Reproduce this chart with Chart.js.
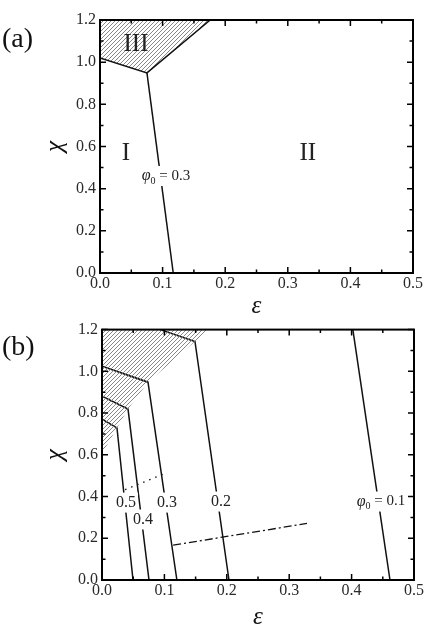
<!DOCTYPE html>
<html lang="en">
<head>
    <meta charset="UTF-8">
    <title>Phase diagrams (a) and (b)</title>
    <style>
        body { margin: 0; background: #fff; }
        canvas { display: block; }
    </style>
</head>
<body>
    <canvas id="chartA" width="428" height="316"></canvas>
    <canvas id="chartB" width="428" height="316"></canvas>
    <script src="https://cdn.jsdelivr.net/npm/chart.js"></script>
    <script>
        // axis ticks (epsilon on x, chi on y)
        const epsTicks = [0.0, 0.1, 0.2, 0.3, 0.4, 0.5];
        const chiTicks = [0.0, 0.2, 0.4, 0.6, 0.8, 1.0, 1.2];

        // panel (a): boundary of region III and the phi0 = 0.3 line
        const aRegionIIIEps = [0, 0.075, 0.176];
        const aRegionIIIChi = [1.02, 0.949, 1.2];
        const aPhi03Eps = [0.075, 0.117];
        const aPhi03Chi = [0.949, 0];

        // panel (a) labels
        const aLabelText = ['I', 'II', 'III'];
        const aLabelEps = [0.0415, 0.332, 0.0575];
        const aLabelChi = [0.569, 0.569, 1.086];
        const aPhiLabelEps = 0.1054;
        const aPhiLabelChi = 0.46;
        const aPhiLabelValue = '0.3';

        // panel (b): hatched boundary through the kinks
        const bBoundaryEps = [0, 0.024, 0.0417, 0.0737, 0.149, 0.173];
        const bBoundaryChi = [0.605, 0.729, 0.819, 0.948, 1.143, 1.2];

        // panel (b): one line per phi0
        const bPhi05Eps = [0, 0.024, 0.0497];
        const bPhi05Chi = [0.771, 0.729, 0];
        const bPhi04Eps = [0, 0.0417, 0.0753];
        const bPhi04Chi = [0.881, 0.819, 0];
        const bPhi03Eps = [0, 0.0737, 0.120];
        const bPhi03Chi = [1.024, 0.948, 0];
        const bPhi02Eps = [0.093, 0.149, 0.2035];
        const bPhi02Chi = [1.2, 1.143, 0];
        const bPhi01Eps = [0.402, 0.4615];
        const bPhi01Chi = [1.2, 0];

        // panel (b): dotted and dash-dot lines
        const bDottedEps = [0.037, 0.104];
        const bDottedChi = [0.433, 0.514];
        const bDashDotEps = [0.114, 0.3285];
        const bDashDotChi = [0.167, 0.271];

        // panel (b) labels
        const bLabelText = ['0.5', '0.4', '0.3', '0.2'];
        const bLabelEps = [0.0385, 0.0657, 0.104, 0.1907];
        const bLabelChi = [0.371, 0.29, 0.371, 0.376];
        const bPhiLabelEps = 0.447;
        const bPhiLabelChi = 0.376;
        const bPhiLabelValue = '0.1';

        const SERIF = '"Liberation Serif", "Times New Roman", serif';
        const INK = '#111';

        function points(xs, ys) {
            return xs.map((x, i) => ({ x: x, y: ys[i] }));
        }

        // diagonal hatching "////"
        function makeHatch() {
            const c = document.createElement('canvas');
            c.width = 4; c.height = 4;
            const g = c.getContext('2d');
            g.strokeStyle = '#7a7a7a';
            g.lineWidth = 0.9;
            g.beginPath();
            g.moveTo(0, 4); g.lineTo(4, 0);
            g.moveTo(-1, 1); g.lineTo(1, -1);
            g.moveTo(3, 5); g.lineTo(5, 3);
            g.stroke();
            return g.createPattern(c, 'repeat');
        }
        const hatch = makeHatch();

        function lineSet(xs, ys, extra) {
            return Object.assign({
                data: points(xs, ys),
                showLine: true,
                pointRadius: 0,
                borderColor: INK,
                borderWidth: 1.5,
                fill: false,
                tension: 0
            }, extra || {});
        }

        // minor tick values halfway between the major ones
        function withMinor(major) {
            const out = [];
            major.forEach((v, i) => {
                out.push({ v: v, major: true });
                if (i < major.length - 1) out.push({ v: (v + major[i + 1]) / 2, major: false });
            });
            return out;
        }

        // frame round the plot with inward ticks on all four sides
        const frameTicks = {
            id: 'frameTicks',
            afterDatasetsDraw(chart) {
                const { ctx, chartArea: a, scales: { x, y } } = chart;
                ctx.save();
                ctx.strokeStyle = '#000';
                ctx.lineWidth = 1.5;
                ctx.beginPath();
                withMinor(epsTicks).forEach(t => {
                    const px = x.getPixelForValue(t.v);
                    const len = t.major ? 6 : 3.5;
                    ctx.moveTo(px, a.bottom); ctx.lineTo(px, a.bottom - len);
                    ctx.moveTo(px, a.top); ctx.lineTo(px, a.top + len);
                });
                withMinor(chiTicks).forEach(t => {
                    const py = y.getPixelForValue(t.v);
                    const len = t.major ? 6 : 3.5;
                    ctx.moveTo(a.left, py); ctx.lineTo(a.left + len, py);
                    ctx.moveTo(a.right, py); ctx.lineTo(a.right - len, py);
                });
                ctx.stroke();
                ctx.lineWidth = 2;
                ctx.strokeRect(a.left, a.top, a.width, a.height);
                ctx.restore();
            }
        };

        // "phi_0 = value" with a small subscript
        function drawPhiLabel(ctx, cx, cy, value) {
            const big = '15px ' + SERIF;
            const ital = 'italic 16px ' + SERIF;
            const small = '10px ' + SERIF;
            ctx.font = ital; const w1 = ctx.measureText('\u03C6').width;
            ctx.font = small; const w2 = ctx.measureText('0').width;
            ctx.font = big; const w3 = ctx.measureText(' = ' + value).width;
            const w = w1 + w2 + w3;
            let x0 = cx - w / 2;
            ctx.fillStyle = '#fff';
            ctx.fillRect(x0 - 2, cy - 10, w + 4, 20);
            ctx.fillStyle = '#222';
            ctx.textBaseline = 'middle';
            ctx.textAlign = 'left';
            ctx.font = ital; ctx.fillText('\u03C6', x0, cy);
            x0 += w1;
            ctx.font = small; ctx.fillText('0', x0, cy + 5);
            x0 += w2;
            ctx.font = big; ctx.fillText(' = ' + value, x0, cy);
        }

        function textLabels(cfg) {
            return {
                id: 'textLabels',
                afterDatasetsDraw(chart) {
                    const { ctx, scales: { x, y } } = chart;
                    ctx.save();
                    ctx.textAlign = 'center';
                    ctx.textBaseline = 'middle';
                    cfg.text.forEach((t, i) => {
                        const px = x.getPixelForValue(cfg.eps[i]);
                        const py = y.getPixelForValue(cfg.chi[i]);
                        ctx.font = cfg.font;
                        if (cfg.box) {
                            const w = ctx.measureText(t).width;
                            ctx.fillStyle = '#fff';
                            ctx.fillRect(px - w / 2 - 2, py - 10, w + 4, 20);
                        }
                        ctx.fillStyle = '#222';
                        ctx.fillText(t, px, py);
                    });
                    drawPhiLabel(ctx, x.getPixelForValue(cfg.phiEps), y.getPixelForValue(cfg.phiChi), cfg.phiValue);
                    ctx.font = '28px ' + SERIF;
                    ctx.fillStyle = '#111';
                    ctx.textAlign = 'left';
                    ctx.fillText(cfg.panel, 2, cfg.panelY);
                    ctx.restore();
                }
            };
        }

        function makeOptions(dims) {
            return {
                responsive: false,
                animation: false,
                layout: { padding: { left: 0, top: dims.top, right: dims.right, bottom: 0 } },
                plugins: { legend: { display: false }, tooltip: { enabled: false } },
                scales: {
                    x: {
                        type: 'linear',
                        min: 0, max: 0.5,
                        grid: { display: false, drawTicks: false },
                        border: { display: false },
                        afterBuildTicks: s => { s.ticks = epsTicks.map(v => ({ value: v })); },
                        afterFit: s => { s.height = dims.xHeight; },
                        ticks: {
                            padding: 1,
                            maxRotation: 0,
                            autoSkip: false,
                            color: '#2a2a2a',
                            font: { family: SERIF, size: 16 },
                            callback: v => v.toFixed(1)
                        },
                        title: {
                            display: true,
                            text: '\u03B5',
                            color: '#111',
                            padding: { top: 0, bottom: 0 },
                            font: { family: SERIF, size: 25, style: 'italic', lineHeight: dims.epsLine }
                        }
                    },
                    y: {
                        type: 'linear',
                        min: 0, max: 1.2,
                        grid: { display: false, drawTicks: false },
                        border: { display: false },
                        afterBuildTicks: s => { s.ticks = chiTicks.map(v => ({ value: v })); },
                        afterFit: s => { s.width = dims.yWidth; },
                        ticks: {
                            padding: 4,
                            autoSkip: false,
                            color: '#2a2a2a',
                            font: { family: SERIF, size: 16 },
                            callback: v => v.toFixed(1)
                        },
                        title: {
                            display: true,
                            text: '\u03C7',
                            color: '#111',
                            padding: { top: 40, bottom: 0 },
                            font: { family: SERIF, size: 25, style: 'italic', lineHeight: 1.2 }
                        }
                    }
                }
            };
        }

        // panel (a)
        new Chart(document.getElementById('chartA').getContext('2d'), {
            type: 'scatter',
            data: {
                datasets: [
                    lineSet(aRegionIIIEps, aRegionIIIChi, { fill: 'end', backgroundColor: hatch }),
                    lineSet(aPhi03Eps, aPhi03Chi)
                ]
            },
            options: makeOptions({ top: 20, right: 15, xHeight: 43, yWidth: 100, epsLine: 0.75 }),
            plugins: [frameTicks, textLabels({
                text: aLabelText, eps: aLabelEps, chi: aLabelChi,
                font: '25px ' + SERIF, box: false,
                phiEps: aPhiLabelEps, phiChi: aPhiLabelChi, phiValue: aPhiLabelValue,
                panel: '(a)', panelY: 40
            })]
        });

        // panel (b)
        new Chart(document.getElementById('chartB').getContext('2d'), {
            type: 'scatter',
            data: {
                datasets: [
                    lineSet(bBoundaryEps, bBoundaryChi, { fill: 'end', backgroundColor: hatch, borderWidth: 0, borderColor: 'rgba(0,0,0,0)' }),
                    lineSet(bPhi05Eps, bPhi05Chi),
                    lineSet(bPhi04Eps, bPhi04Chi),
                    lineSet(bPhi03Eps, bPhi03Chi),
                    lineSet(bPhi02Eps, bPhi02Chi),
                    lineSet(bPhi01Eps, bPhi01Chi),
                    lineSet(bDottedEps, bDottedChi, { borderWidth: 1.3, borderDash: [1.5, 5] }),
                    lineSet(bDashDotEps, bDashDotChi, { borderWidth: 1.3, borderDash: [8, 3, 2, 3] })
                ]
            },
            options: makeOptions({ top: 12, right: 14, xHeight: 52, yWidth: 102, epsLine: 1.2 }),
            plugins: [frameTicks, textLabels({
                text: bLabelText, eps: bLabelEps, chi: bLabelChi,
                font: '16px ' + SERIF, box: true,
                phiEps: bPhiLabelEps, phiChi: bPhiLabelChi, phiValue: bPhiLabelValue,
                panel: '(b)', panelY: 32
            })]
        });
    </script>
</body>
</html>
